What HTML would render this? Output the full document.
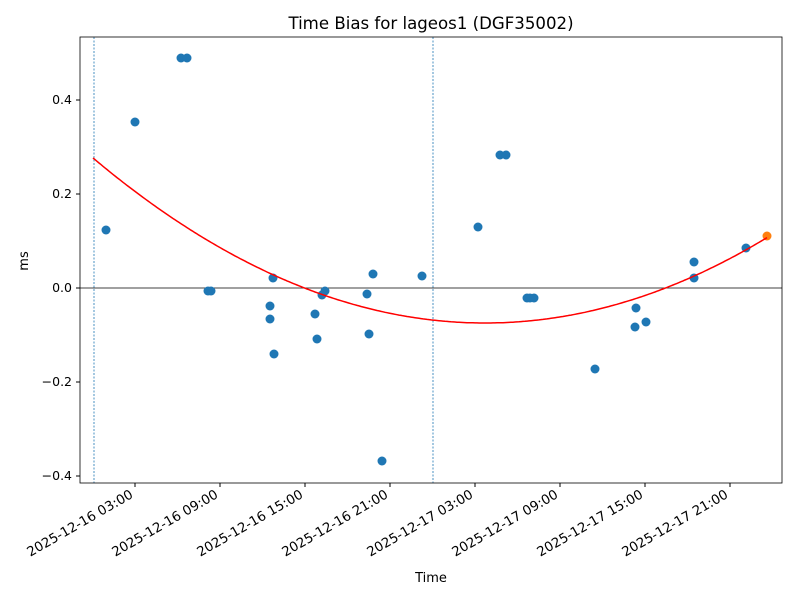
<!DOCTYPE html>
<html><head><style>body{margin:0;background:#fff}</style></head><body>
<svg width="800" height="600" xmlns="http://www.w3.org/2000/svg" font-family="DejaVu Sans, Liberation Sans, sans-serif">
<rect width="800" height="600" fill="#fff"/>
<text x="431" y="29" font-size="16.6" text-anchor="middle">Time Bias for lageos1 (DGF35002)</text>
<line x1="80" y1="288" x2="782" y2="288" stroke="#000" stroke-width="0.8"/>
<line x1="94" y1="37" x2="94" y2="483" stroke="#1f77b4" stroke-width="0.8" stroke-dasharray="2,1.5"/>
<line x1="433" y1="37" x2="433" y2="483" stroke="#1f77b4" stroke-width="0.8" stroke-dasharray="2,1.5"/>
<g fill="#1f77b4">
<circle cx="106" cy="230" r="4.5"/><circle cx="135" cy="122" r="4.5"/><circle cx="181" cy="58" r="4.5"/><circle cx="187" cy="58" r="4.5"/>
<circle cx="208" cy="291" r="4.5"/><circle cx="211" cy="291" r="4.5"/><circle cx="270" cy="306" r="4.5"/><circle cx="270" cy="319" r="4.5"/>
<circle cx="273" cy="278" r="4.5"/><circle cx="274" cy="354" r="4.5"/><circle cx="315" cy="314" r="4.5"/><circle cx="317" cy="339" r="4.5"/>
<circle cx="322" cy="295" r="4.5"/><circle cx="325" cy="291" r="4.5"/><circle cx="367" cy="294" r="4.5"/><circle cx="369" cy="334" r="4.5"/>
<circle cx="373" cy="274" r="4.5"/><circle cx="382" cy="461" r="4.5"/><circle cx="422" cy="276" r="4.5"/><circle cx="478" cy="227" r="4.5"/>
<circle cx="500" cy="155" r="4.5"/><circle cx="506" cy="155" r="4.5"/><circle cx="527" cy="298" r="4.5"/><circle cx="530" cy="298" r="4.5"/>
<circle cx="534" cy="298" r="4.5"/><circle cx="595" cy="369" r="4.5"/><circle cx="636" cy="308" r="4.5"/><circle cx="635" cy="327" r="4.5"/>
<circle cx="646" cy="322" r="4.5"/><circle cx="694" cy="262" r="4.5"/><circle cx="694" cy="278" r="4.5"/><circle cx="746" cy="248" r="4.5"/>
</g>
<circle cx="767" cy="236" r="4.5" fill="#ff7f0e"/>
<path id="c" fill="none" stroke="#ff0000" stroke-width="1.5" d=""/>
<rect x="80" y="37" width="702" height="446" fill="none" stroke="#000" stroke-width="0.8"/>
<g font-size="12.5" text-anchor="end">
<line x1="76" y1="100" x2="80" y2="100" stroke="#000"/><text x="72" y="104">0.4</text>
<line x1="76" y1="194" x2="80" y2="194" stroke="#000"/><text x="72" y="198">0.2</text>
<line x1="76" y1="288" x2="80" y2="288" stroke="#000"/><text x="72" y="292">0.0</text>
<line x1="76" y1="382" x2="80" y2="382" stroke="#000"/><text x="72" y="386">−0.2</text>
<line x1="76" y1="476" x2="80" y2="476" stroke="#000"/><text x="72" y="480">−0.4</text>
</g>
<g font-size="13.3" text-anchor="end">
<line x1="135" y1="483" x2="135" y2="487" stroke="#000"/><text x="134" y="497" transform="rotate(-30 134 497)">2025-12-16 03:00</text>
<line x1="220" y1="483" x2="220" y2="487" stroke="#000"/><text x="219" y="497" transform="rotate(-30 219 497)">2025-12-16 09:00</text>
<line x1="305" y1="483" x2="305" y2="487" stroke="#000"/><text x="304" y="497" transform="rotate(-30 304 497)">2025-12-16 15:00</text>
<line x1="390" y1="483" x2="390" y2="487" stroke="#000"/><text x="389" y="497" transform="rotate(-30 389 497)">2025-12-16 21:00</text>
<line x1="475" y1="483" x2="475" y2="487" stroke="#000"/><text x="474" y="497" transform="rotate(-30 474 497)">2025-12-17 03:00</text>
<line x1="560" y1="483" x2="560" y2="487" stroke="#000"/><text x="559" y="497" transform="rotate(-30 559 497)">2025-12-17 09:00</text>
<line x1="645" y1="483" x2="645" y2="487" stroke="#000"/><text x="644" y="497" transform="rotate(-30 644 497)">2025-12-17 15:00</text>
<line x1="730" y1="483" x2="730" y2="487" stroke="#000"/><text x="729" y="497" transform="rotate(-30 729 497)">2025-12-17 21:00</text>
</g>
<text x="28" y="261" font-size="13" text-anchor="middle" transform="rotate(-90 28 261)">ms</text>
<text x="431" y="582" font-size="13" text-anchor="middle">Time</text>
<script>
var d="";for(var x=93;x<=767;x+=2){var y=323-0.001074*(x-485)*(x-485);d+=(x==93?"M":"L")+x+","+y.toFixed(1);}
document.getElementById("c").setAttribute("d",d);
</script>
</svg>
</body></html>
